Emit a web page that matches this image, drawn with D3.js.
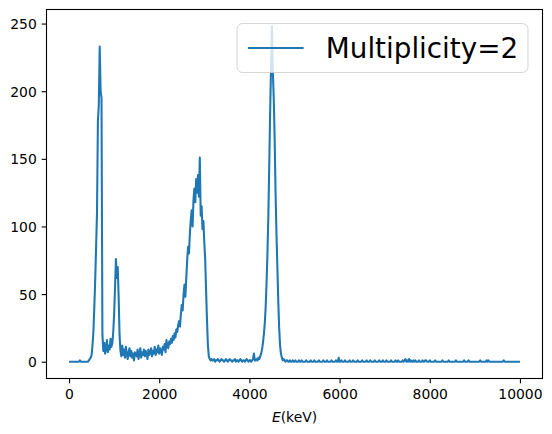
<!DOCTYPE html>
<html>
<head>
<meta charset="utf-8">
<script src="https://cdn.jsdelivr.net/npm/d3@7"></script>
<style>
    body { margin: 0; background: #fff; }
    svg { display: block; font-family: "DejaVu Sans", sans-serif; }
</style>
</head>
<body>
<div id="chart"></div>
<script>
// Histogram of energies, 20 keV bins starting at 0 keV.
var binWidth = 20;
var seriesName = 'Multiplicity=2';

// Counts per bin (one row = 500 keV).
var counts = [
    0,0,0,0,0,0,0,0,0,0,0,0,1,0,0,0,0,0,0,0,0,0,1,2,3,
    5,12,22,40,60,85,110,178,190,233,200,195,20,8,14,6,10,16,7,12,9,17,11,14,22,
    35,55,76,62,70,48,20,8,4,12,5,9,3,11,6,2,7,10,4,8,3,6,1,7,5,
    4,9,2,6,10,3,7,5,9,4,8,6,2,9,5,7,10,4,8,6,11,5,9,7,12,
    6,10,8,5,11,9,13,7,16,12,10,15,13,17,14,19,16,21,18,24,22,27,30,26,35,
    42,38,50,57,48,62,75,85,80,95,105,112,100,120,128,118,135,125,138,122,151,108,115,98,104,
    88,75,52,30,12,4,2,1,2,1,1,2,0,1,1,2,1,0,1,2,1,1,0,1,2,
    1,0,1,2,1,1,0,1,1,2,0,1,1,0,1,2,1,0,1,1,0,1,2,1,0,
    1,1,0,1,2,6,1,1,2,1,3,2,4,6,9,14,20,28,40,58,80,108,145,185,218,
    248,214,195,165,125,95,70,45,25,12,6,3,1,2,1,0,1,1,0,0,1,0,0,1,0,
    0,1,0,0,0,1,0,0,1,0,0,0,0,1,0,0,0,0,1,0,0,0,1,0,0,
    0,0,1,0,0,0,0,1,0,0,0,1,0,0,0,0,1,0,0,0,0,1,0,0,3,
    0,0,1,0,0,0,1,0,0,0,0,1,0,0,0,1,0,0,0,0,1,0,0,0,0,
    1,0,0,0,0,1,0,0,0,1,0,0,0,0,1,0,0,0,0,1,0,0,0,1,0,
    0,0,1,0,0,0,0,1,0,0,0,0,1,0,0,1,0,0,0,0,1,0,1,2,0,
    1,0,2,0,1,0,0,1,0,1,0,0,0,1,0,0,0,1,0,0,1,1,0,0,0,
    1,0,0,0,0,0,1,0,0,0,0,0,0,0,1,0,0,0,0,0,0,1,0,0,0,
    0,0,0,0,1,0,0,0,0,0,0,0,0,1,0,0,0,0,1,0,0,0,0,0,0,
    0,0,0,0,0,0,1,0,0,0,0,0,0,1,0,1,0,0,0,0,0,0,0,0,0,
    0,0,0,0,0,0,0,1,0,0,0,0,0,0,0,0,0,0,0,0,0,0,0,0,0,
    0
];

var xTicks = [0, 2000, 4000, 6000, 8000, 10000];
var yTicks = [0, 50, 100, 150, 200, 250];

var width = 552, height = 434;
var margin = { left: 46.5, right: 9.5, top: 9.5, bottom: 55.5 };
var fontSize = 13.9; // 10pt
var tickLen = 4.86;
var lineWidth = 2.08; // 1.5pt
var color = '#1f77b4';

var points = counts.map((c, i) => ({ e: i * binWidth, n: c }));

// Matplotlib style 5% margins round the data.
var xMin = d3.min(points, d => d.e), xMax = d3.max(points, d => d.e);
var yMin = d3.min(points, d => d.n), yMax = d3.max(points, d => d.n);
var xPad = (xMax - xMin) * 0.05, yPad = (yMax - yMin) * 0.05;

var x = d3.scaleLinear()
    .domain([xMin - xPad, xMax + xPad])
    .range([margin.left, width - margin.right]);

var y = d3.scaleLinear()
    .domain([yMin - yPad, yMax + yPad])
    .range([height - margin.bottom, margin.top]);

var svg = d3.select('#chart').append('svg')
    .attr('width', width)
    .attr('height', height);

svg.append('clipPath').attr('id', 'clip')
    .append('rect')
    .attr('x', margin.left)
    .attr('y', margin.top)
    .attr('width', width - margin.left - margin.right)
    .attr('height', height - margin.top - margin.bottom);

// Data line.
var line = d3.line()
    .x(d => x(d.e))
    .y(d => y(d.n));

svg.append('path')
    .datum(points)
    .attr('clip-path', 'url(#clip)')
    .attr('d', line)
    .attr('fill', 'none')
    .attr('stroke', color)
    .attr('stroke-width', lineWidth)
    .attr('stroke-linejoin', 'round');

// Axes.
var xAxis = svg.append('g')
    .attr('transform', 'translate(0,' + (height - margin.bottom) + ')')
    .call(d3.axisBottom(x).tickValues(xTicks).tickFormat(d3.format('d'))
        .tickSize(tickLen).tickSizeOuter(0).tickPadding(5.5));

var yAxis = svg.append('g')
    .attr('transform', 'translate(' + margin.left + ',0)')
    .call(d3.axisLeft(y).tickValues(yTicks).tickFormat(d3.format('d'))
        .tickSize(tickLen).tickSizeOuter(0).tickPadding(4.86));

[xAxis, yAxis].forEach(function(a) {
    a.select('.domain').remove();
    a.attr('font-family', '"DejaVu Sans", sans-serif')
        .attr('font-size', fontSize);
    a.selectAll('.tick line').attr('stroke', '#000').attr('stroke-width', 1.1);
    a.selectAll('.tick text').attr('fill', '#000');
});
yAxis.selectAll('.tick text').attr('dy', '0.36em');

// Frame.
svg.append('rect')
    .attr('x', margin.left)
    .attr('y', margin.top)
    .attr('width', width - margin.left - margin.right)
    .attr('height', height - margin.top - margin.bottom)
    .attr('fill', 'none')
    .attr('stroke', '#000')
    .attr('stroke-width', 1.1);

// X label.
var xLabel = svg.append('text')
    .attr('x', (margin.left + width - margin.right) / 2)
    .attr('y', 422.3)
    .attr('text-anchor', 'middle')
    .attr('font-size', fontSize)
    .attr('fill', '#000');
xLabel.append('tspan').attr('font-style', 'italic').text('E');
xLabel.append('tspan').text('(keV)');

// Legend.
var legendFont = 27.8;
var legend = svg.append('g');
legend.append('rect')
    .attr('x', 237)
    .attr('y', 23.5)
    .attr('width', 291)
    .attr('height', 49)
    .attr('rx', 5.6)
    .attr('fill', '#fff')
    .attr('fill-opacity', 0.8)
    .attr('stroke', '#cccccc')
    .attr('stroke-opacity', 0.8)
    .attr('stroke-width', 1);
legend.append('line')
    .attr('x1', 248).attr('x2', 303.6)
    .attr('y1', 48).attr('y2', 48)
    .attr('stroke', color)
    .attr('stroke-width', lineWidth);
legend.append('text')
    .attr('x', 325.8)
    .attr('y', 57.8)
    .attr('font-size', legendFont)
    .attr('fill', '#000')
    .text(seriesName);
</script>
</body>
</html>
